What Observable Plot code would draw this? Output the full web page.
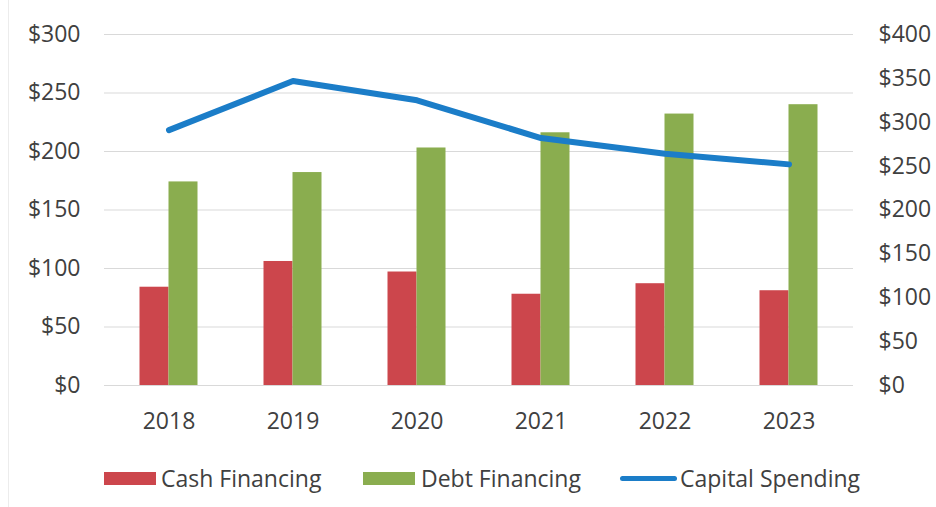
<!DOCTYPE html>
<html>
<head>
<meta charset="utf-8">
<script src="https://cdn.jsdelivr.net/npm/d3@7"></script>
<script src="https://cdn.jsdelivr.net/npm/@observablehq/plot@0.6"></script>
<style>
  body { margin: 0; background: #fff; font-family: "Open Sans", sans-serif; color: #404040; }
  #wrap { position: relative; width: 936px; height: 507px; overflow: hidden; }
  #frame { position: absolute; left: 8px; top: 0; width: 1px; height: 507px; background: #ececec; }
  #chart { position: absolute; left: 0; top: 0; }
  #legend { position: absolute; left: 0; top: 445px; width: 936px; height: 62px; }
  .item { position: absolute; top: 18px; height: 30px; display: flex; align-items: center; font-size: 23px; white-space: nowrap; }
  .sw { display: inline-block; }
</style>
</head>
<body>
<div id="wrap">
  <div id="frame"></div>
  <div id="chart"></div>
  <div id="legend"></div>
</div>
<script>
const years = ["2018", "2019", "2020", "2021", "2022", "2023"];
const cashFinancing = [84, 106, 97, 78, 87, 81];
const debtFinancing = [174, 182, 203, 216, 232, 240];
const capitalSpending = [291, 347, 325, 282, 264, 252];
const leftTicks = [0, 50, 100, 150, 200, 250, 300];
const rightTicks = [0, 50, 100, 150, 200, 250, 300, 350, 400];
const seriesNames = ["Cash Financing", "Debt Financing", "Capital Spending"];
const colors = ["#cc464c", "#8aad4f", "#1b7dc8"];

const leftMax = 300, rightMax = 400;
const k = leftMax / rightMax;

const data = years.map((year, i) => ({
  year, cash: cashFinancing[i], debt: debtFinancing[i], capex: capitalSpending[i]
}));

const chart = Plot.plot({
  width: 936,
  height: 445,
  marginLeft: 104,
  marginRight: 83,
  marginTop: 34,
  marginBottom: 60,
  style: { fontFamily: "Open Sans, sans-serif", fontSize: "23px", color: "#404040", background: "transparent" },
  x: { domain: years, paddingInner: 0.768, paddingOuter: 0.384, label: null },
  y: { domain: [0, leftMax], label: null },
  marks: [
    Plot.gridY(leftTicks, { stroke: "#d9d9d9", strokeOpacity: 1, strokeWidth: 1 }),
    Plot.barY(data, { x: "year", y: "cash", fill: colors[0], dx: -14.5 }),
    Plot.barY(data, { x: "year", y: "debt", fill: colors[1], dx: 14.5 }),
    Plot.line(data, { x: "year", y: d => d.capex * k, stroke: colors[2], strokeWidth: 6, strokeLinecap: "round", strokeLinejoin: "round" }),
    Plot.axisY(leftTicks, { anchor: "left", tickSize: 0, tickPadding: 24, tickFormat: d => "$" + d, label: null }),
    Plot.axisY(rightTicks.map(d => d * k), { anchor: "right", tickSize: 0, tickPadding: 25, tickFormat: d => "$" + Math.round(d / k), label: null }),
    Plot.axisX({ tickSize: 0, tickPadding: 27, label: null })
  ]
});
document.getElementById("chart").appendChild(chart);

const legend = document.getElementById("legend");
const legendLeft = [104, 363, 620];
seriesNames.forEach((name, i) => {
  const item = document.createElement("div");
  item.className = "item";
  item.style.left = legendLeft[i] + "px";
  const sw = document.createElement("span");
  sw.className = "sw";
  if (i < 2) {
    sw.style.width = "52px"; sw.style.height = "13px"; sw.style.background = colors[i];
    sw.style.marginRight = i === 0 ? "5px" : "6px";
  } else {
    sw.style.width = "57px"; sw.style.height = "5px"; sw.style.background = colors[i];
    sw.style.borderRadius = "3px"; sw.style.marginRight = "3px";
  }
  const t = document.createElement("span");
  t.textContent = name;
  item.appendChild(sw);
  item.appendChild(t);
  legend.appendChild(item);
});
</script>
</body>
</html>
